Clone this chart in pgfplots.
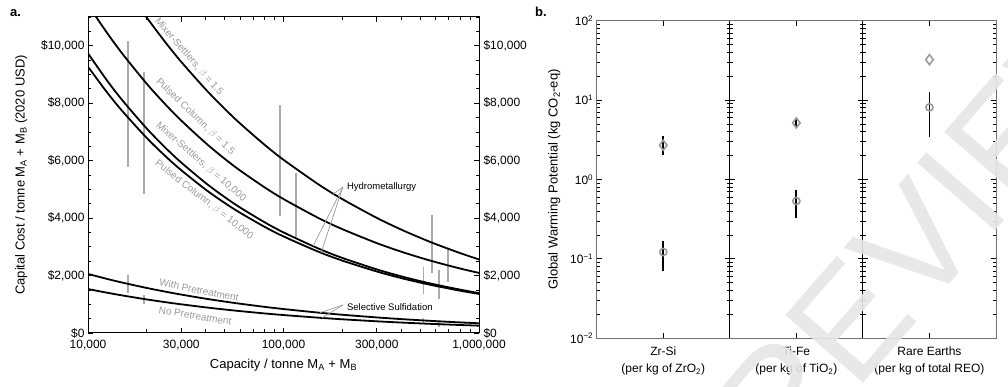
\documentclass[border=0pt]{standalone}
\usepackage{pgfplots}
\pgfplotsset{compat=1.18}
\usepackage{fontspec}
\setmainfont{Liberation Sans}
\definecolor{lgray}{HTML}{ABABAB}
\definecolor{mgray}{HTML}{9A9A9A}
\definecolor{fgray}{HTML}{707070}
\definecolor{wm}{HTML}{E6E6E6}
\newcommand{\tlf}{\fontsize{12pt}{14pt}\selectfont}
\newcommand{\lbf}{\fontsize{13pt}{15pt}\selectfont}
\begin{document}
\begin{tikzpicture}
\useasboundingbox (0pt,0pt) rectangle (1008pt,387pt);
\node[anchor=base west, font=\bfseries\fontsize{13pt}{15pt}\selectfont, inner sep=0pt] at (10pt,370pt) {a.};
\node[anchor=base west, font=\bfseries\fontsize{13pt}{15pt}\selectfont, inner sep=0pt] at (535pt,370pt) {b.};

% ---------------- Panel a ----------------
\begin{axis}[
  at={(88pt,54pt)}, anchor=south west, width=391pt, height=316pt, scale only axis,
  xmode=log, xmin=1e4, xmax=1e6, ymin=0, ymax=11000,
  xtick={10000,30000,100000,300000,1000000},
  xticklabels={{10,000},{30,000},{100,000},{300,000},{1,000,000}},
  minor xtick={20000,40000,50000,60000,70000,80000,90000,200000,400000,500000,600000,700000,800000,900000},
  ytick={0,2000,4000,6000,8000,10000},
  yticklabels={{\$0},{\$2,000},{\$4,000},{\$6,000},{\$8,000},{\$10,000}},
  minor ytick={500,1000,...,11000},
  tick align=inside, xtick pos=both, ytick pos=both, yticklabel pos=left,
  major tick length=5pt, minor tick length=3.5pt,
  tick style={black, line width=0.8pt},
  axis line style={line width=1pt},
  ticklabel style={font=\tlf},
  xticklabel style={yshift=-4pt},
  label style={font=\lbf},
  xlabel={Capacity / tonne M\textsubscript{A} + M\textsubscript{B}},
  ylabel={Capital Cost / tonne M\textsubscript{A} + M\textsubscript{B} (2020 USD)},
  xlabel style={yshift=-2pt},
  ylabel style={yshift=7pt},
  scaled y ticks=false,
]
% gray ranges
\addplot[lgray, line width=1.6pt, unbounded coords=jump] coordinates {
 (16070,5774) (16070,10149) (16070,nan)
 (19300,4826) (19300,9073) (19300,nan)
 (95900,4063) (95900,7951) (95900,nan)
 (115900,3344) (115900,5580) (115900,nan)
 (575000,2094) (575000,4108) (575000,nan)
 (693000,1781) (693000,2941) (693000,nan)
 (519000,1344) (519000,2302) (519000,nan)
 (626000,1170) (626000,2188) (626000,nan)
 (16070,1378) (16070,2014) (16070,nan)
 (19300,997) (19300,1319) (19300,nan)
 (519000,320) (519000,530) (519000,nan)
 (626000,200) (626000,390)
};
% Mixer-Settlers beta=1.5
\addplot[black, line width=1.8pt, smooth] coordinates {
 (19000,11185) (20000,10973) (25000,10100) (30000,9437) (40000,8479) (50000,7804) (60000,7292) (80000,6552) (100000,6030) (150000,5186) (200000,4660) (300000,4007) (400000,3600) (500000,3314) (600000,3096) (800000,2782) (1000000,2560)};
% Pulsed Column beta=1.5
\addplot[black, line width=1.8pt, smooth] coordinates {
 (10500,11206) (12500,10452) (15000,9719) (20000,8671) (25000,7942) (30000,7394) (40000,6611) (50000,6065) (60000,5655) (80000,5071) (100000,4663) (150000,4012) (200000,3615) (300000,3129) (400000,2831) (500000,2624) (600000,2468) (800000,2245) (1000000,2090)};
% Mixer-Settlers beta=10,000
\addplot[black, line width=1.8pt, smooth] coordinates {
 (10000,9733) (12500,8794) (15000,8098) (20000,7113) (25000,6435) (30000,5932) (40000,5220) (50000,4731) (60000,4368) (80000,3855) (100000,3502) (150000,2947) (200000,2613) (300000,2214) (400000,1972) (500000,1807) (600000,1684) (800000,1510) (1000000,1390)};
% Pulsed Column beta=10,000
\addplot[black, line width=1.8pt, smooth] coordinates {
 (10000,9270) (12500,8380) (15000,7720) (20000,6786) (25000,6143) (30000,5666) (40000,4991) (50000,4528) (60000,4184) (80000,3697) (100000,3362) (150000,2836) (200000,2520) (300000,2141) (400000,1912) (500000,1755) (600000,1639) (800000,1473) (1000000,1360)};
% With Pretreatment
\addplot[black, line width=1.8pt, smooth] coordinates {
 (10000,2056) (12500,1884) (15000,1754) (20000,1567) (25000,1436) (30000,1337) (40000,1194) (50000,1094) (60000,1019) (80000,910) (100000,834) (150000,711) (200000,635) (300000,542) (400000,484) (500000,444) (600000,413) (800000,369) (1000000,338)};
% No Pretreatment
\addplot[black, line width=1.8pt, smooth] coordinates {
 (10000,1530) (12500,1403) (15000,1307) (20000,1168) (25000,1071) (30000,998) (40000,892) (50000,818) (60000,762) (80000,681) (100000,625) (150000,534) (200000,477) (300000,407) (400000,364) (500000,334) (600000,311) (800000,278) (1000000,255)};

% curve labels
\begin{scope}[every node/.style={text=mgray, font=\fontsize{10pt}{12pt}\selectfont, inner sep=0pt}]
\node[rotate=-49] at (rel axis cs:0.258,0.873) {Mixer-Settlers, $\beta$ = 1.5};
\node[rotate=-44] at (rel axis cs:0.274,0.684) {Pulsed Column, $\beta$ = 1.5};
\node[rotate=-41] at (rel axis cs:0.289,0.541) {Mixer-Settlers, $\beta$ = 10,000};
\node[rotate=-38] at (rel axis cs:0.297,0.421) {Pulsed Column, $\beta$ = 10,000};
\node[rotate=-11.5] at (rel axis cs:0.284,0.136) {With Pretreatment};
\node[rotate=-9.5] at (rel axis cs:0.274,0.054) {No Pretreatment};
\end{scope}
% annotations
\draw[mgray, line width=0.7pt] (rel axis cs:0.652,0.462) -- (axis cs:179100,4826);
\draw[mgray, line width=0.7pt] (rel axis cs:0.652,0.462) -- (axis cs:141600,3021);
\draw[mgray, line width=0.7pt] (rel axis cs:0.652,0.462) -- (axis cs:155500,2794);
\draw[mgray, line width=0.7pt] (rel axis cs:0.652,0.0886) -- (axis cs:153700,705);
\draw[mgray, line width=0.7pt] (rel axis cs:0.652,0.0886) -- (axis cs:157400,524);
\node[anchor=west, font=\fontsize{9.5pt}{11pt}\selectfont, inner sep=0pt] at (rel axis cs:0.662,0.463) {Hydrometallurgy};
\node[anchor=west, font=\fontsize{9.5pt}{11pt}\selectfont, inner sep=0pt] at (rel axis cs:0.662,0.082) {Selective Sulfidation};
\end{axis}

% right-hand labels of panel a
\begin{axis}[
  at={(88pt,54pt)}, anchor=south west, width=391pt, height=316pt, scale only axis,
  xmode=log, xmin=1e4, xmax=1e6, ymin=0, ymax=11000,
  hide x axis, axis y line*=right, axis line style={draw=none},
  ytick={0,2000,4000,6000,8000,10000},
  yticklabels={{\$0},{\$2,000},{\$4,000},{\$6,000},{\$8,000},{\$10,000}},
  major tick length=0pt, tick style={draw=none},
  ticklabel style={font=\tlf, xshift=1pt},
  scaled y ticks=false,
]
\end{axis}

% ---------------- Panel b ----------------
\begin{axis}[at={(596.7pt,48.7pt)}, width=133.1pt, height=317.6pt, scale only axis, anchor=south west,
  ymode=log, ymin=0.01, ymax=100, xmin=0, xmax=1,
  xtick={0.5},
  ytick={0.01,0.1,1,10,100},
  minor ytick={0.02,0.03,0.04,0.05,0.06,0.07,0.08,0.09,0.2,0.3,0.4,0.5,0.6,0.7,0.8,0.9,2,3,4,5,6,7,8,9,20,30,40,50,60,70,80,90},
  tick align=inside, xtick pos=both, ytick pos=both, yticklabel pos=left,
  major tick length=5pt, minor tick length=3pt,
  axis line style={fgray, line width=1pt},
  tick style={black, line width=0.8pt},
  ticklabel style={font=\tlf},
  xticklabel style={align=center, yshift=-5pt, font=\fontsize{12pt}{17pt}\selectfont},
  label style={font=\lbf},
  clip=false,
  yticklabels={10\textsuperscript{−2},10\textsuperscript{−1},10\textsuperscript{0},10\textsuperscript{1},10\textsuperscript{2}},
  xticklabels={{Zr-Si\\(per kg of ZrO\textsubscript{2})}},
  ylabel={Global Warming Potential (kg CO\textsubscript{2}-eq)},
  ylabel style={yshift=3pt},
]
\addplot[only marks, mark=diamond, mark size=5pt, mgray, line width=1.6pt] coordinates {(0.5,2.7)};
\addplot[only marks, mark=o, mark size=3.6pt, mgray, line width=1.6pt] coordinates {(0.5,0.122)};
\addplot[black, line width=1.9pt] coordinates {(0.5,2.04) (0.5,3.53)};
\addplot[black, line width=1.9pt] coordinates {(0.5,0.071) (0.5,0.168)};
\draw[black, line width=1pt] (rel axis cs:1,0) -- (rel axis cs:1,1);
\end{axis}
\begin{axis}[at={(729.8pt,48.7pt)}, width=133.1pt, height=317.6pt, scale only axis, anchor=south west,
  ymode=log, ymin=0.01, ymax=100, xmin=0, xmax=1,
  xtick={0.5},
  ytick={0.01,0.1,1,10,100},
  minor ytick={0.02,0.03,0.04,0.05,0.06,0.07,0.08,0.09,0.2,0.3,0.4,0.5,0.6,0.7,0.8,0.9,2,3,4,5,6,7,8,9,20,30,40,50,60,70,80,90},
  tick align=inside, xtick pos=both, ytick pos=both,
  major tick length=5pt, minor tick length=3pt,
  axis line style={fgray, line width=1pt},
  tick style={black, line width=0.8pt},
  ticklabel style={font=\tlf},
  xticklabel style={align=center, yshift=-5pt, font=\fontsize{12pt}{17pt}\selectfont},
  clip=false,
  yticklabels={},
  xticklabels={{Ti-Fe\\(per kg of TiO\textsubscript{2})}},
]
\addplot[only marks, mark=diamond, mark size=5pt, mgray, line width=1.6pt] coordinates {(0.5,5.15)};
\addplot[only marks, mark=o, mark size=3.6pt, mgray, line width=1.6pt] coordinates {(0.5,0.536)};
\addplot[black, line width=1.9pt] coordinates {(0.5,4.6) (0.5,5.7)};
\addplot[black, line width=1.9pt] coordinates {(0.5,0.33) (0.5,0.74)};
\draw[black, line width=1pt] (rel axis cs:0,0) -- (rel axis cs:0,1);
\draw[black, line width=1pt] (rel axis cs:1,0) -- (rel axis cs:1,1);
\end{axis}
\begin{axis}[at={(862.9pt,48.7pt)}, width=133.1pt, height=317.6pt, scale only axis, anchor=south west,
  ymode=log, ymin=0.01, ymax=100, xmin=0, xmax=1,
  xtick={0.5},
  ytick={0.01,0.1,1,10,100},
  minor ytick={0.02,0.03,0.04,0.05,0.06,0.07,0.08,0.09,0.2,0.3,0.4,0.5,0.6,0.7,0.8,0.9,2,3,4,5,6,7,8,9,20,30,40,50,60,70,80,90},
  tick align=inside, xtick pos=both, ytick pos=both,
  major tick length=5pt, minor tick length=3pt,
  axis line style={fgray, line width=1pt},
  tick style={black, line width=0.8pt},
  ticklabel style={font=\tlf},
  xticklabel style={align=center, yshift=-5pt, font=\fontsize{12pt}{17pt}\selectfont},
  clip=false,
  yticklabels={},
  xticklabels={{Rare Earths\\(per kg of total REO)}},
]
\addplot[only marks, mark=diamond, mark size=5pt, mgray, line width=1.6pt] coordinates {(0.5,32.3)};
\addplot[only marks, mark=o, mark size=3.6pt, mgray, line width=1.6pt] coordinates {(0.5,8.1)};
\addplot[black, line width=1.9pt] coordinates {(0.5,3.46) (0.5,12.5)};
\draw[black, line width=1pt] (rel axis cs:0,0) -- (rel axis cs:0,1);
\end{axis}

% watermark
\node[rotate=49, text=wm, opacity=0.9, font=\fontsize{150pt}{150pt}\selectfont, inner sep=0pt] at (906.8pt,132.6pt) {PREVIEW};
\end{tikzpicture}
\end{document}
